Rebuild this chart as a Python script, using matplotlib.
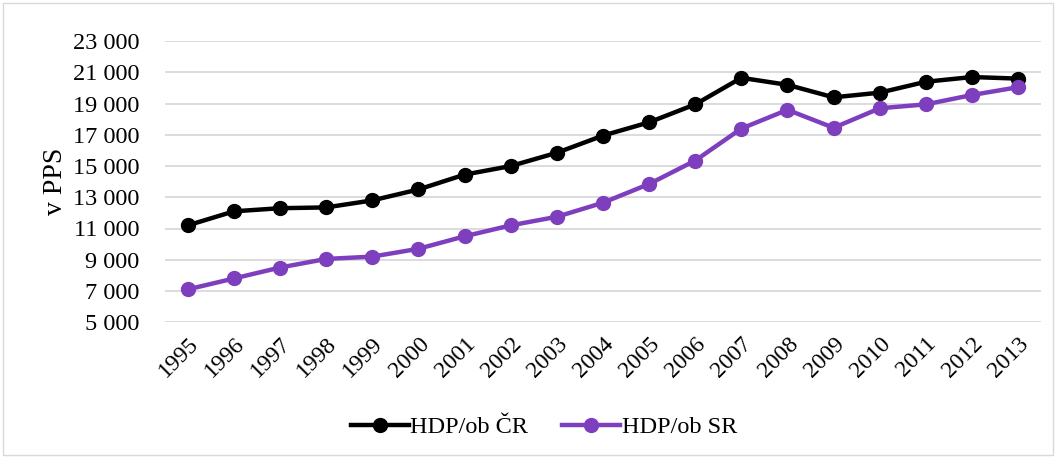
import matplotlib.pyplot as plt
from matplotlib.patches import Rectangle

# roky a hodnoty HDP na obyvatele (PPS)
roky = [str(r) for r in range(1995, 2014)]
hdp_cr = [11200, 12100, 12300, 12350, 12800, 13500, 14450, 15000, 15850, 16950,
          17800, 18950, 20650, 20200, 19400, 19700, 20400, 20700, 20600]
hdp_sr = [7100, 7800, 8500, 9050, 9200, 9700, 10500, 11200, 11750, 12650,
          13850, 15350, 17400, 18600, 17450, 18700, 18950, 19550, 20050]
y_ticks = list(range(5000, 23001, 2000))

plt.rcParams['font.family'] = ['Liberation Serif', 'DejaVu Serif']

fig = plt.figure(figsize=(10.56, 4.57), dpi=100)
fig.patches.append(Rectangle((0.003, 0.004), 0.994, 0.99, transform=fig.transFigure,
                             fill=False, edgecolor='#d9d9d9', linewidth=1))
ax = fig.add_axes([0.156, 0.295, 0.83, 0.615])

x = list(range(len(roky)))
ax.plot(x, hdp_cr, color='black', lw=3.2, marker='o', ms=10, label='HDP/ob ČR')
ax.plot(x, hdp_sr, color='#7E3FBF', lw=3.2, marker='o', ms=10, label='HDP/ob SR')

ax.set_xlim(-0.5, len(roky) - 0.5)
ax.set_ylim(5000, 23000)
ax.set_yticks(y_ticks)
ax.set_yticklabels([f'{v:,}'.replace(',', ' ') for v in y_ticks], fontsize=17.5)
ax.set_xticks(x)
ax.set_xticklabels(roky, rotation=45, ha='right', rotation_mode='anchor', fontsize=17)
ax.tick_params(axis='y', length=0, pad=18)
ax.tick_params(axis='x', length=0, pad=8)
ax.grid(axis='y', color='#d9d9d9', lw=1.3)
ax.set_axisbelow(True)
for s in ax.spines.values():
    s.set_visible(False)
ax.set_ylabel('v PPS', fontsize=20)
ax.yaxis.set_label_coords(-0.11, 0.5)

fig.legend(loc='center', bbox_to_anchor=(0.515, 0.065), ncol=2, frameon=False,
           fontsize=17.5, handlelength=2.4, handletextpad=0.05, columnspacing=1.4)

fig.savefig('out.png', dpi=100)
